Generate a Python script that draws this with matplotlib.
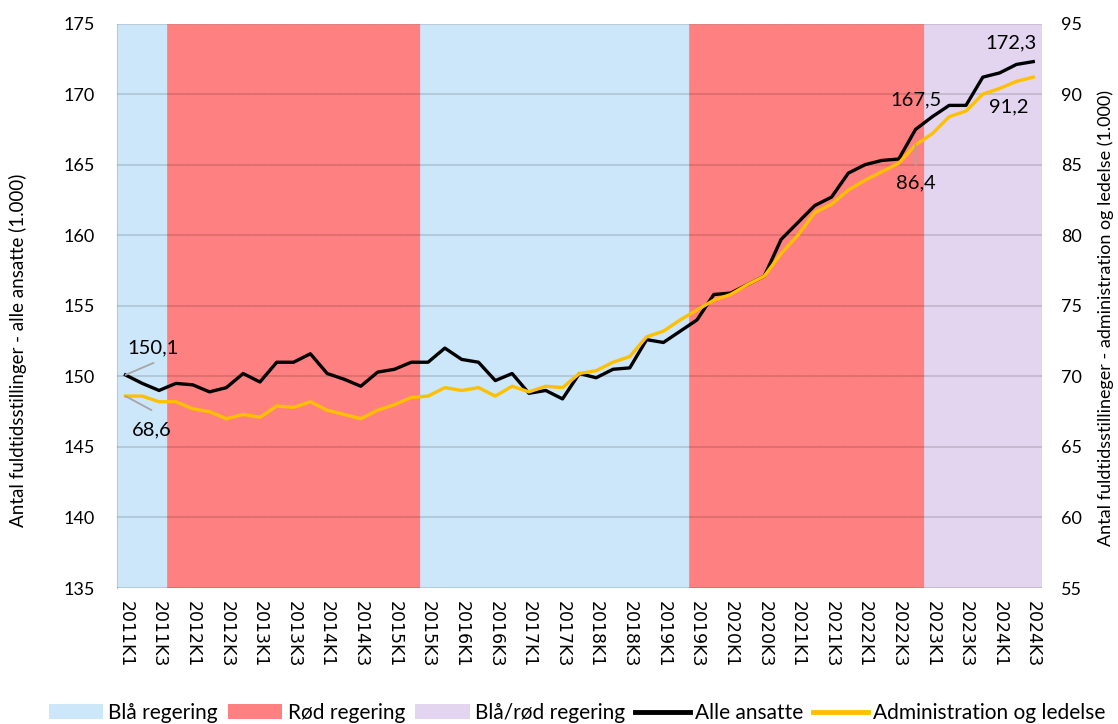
import matplotlib
matplotlib.use('Agg')
import matplotlib.pyplot as plt
from matplotlib.patches import Patch
from matplotlib.lines import Line2D
import numpy as np

plt.rcParams['font.family'] = ['Lato', 'DejaVu Sans']

# Kvartaler 2011K1 - 2024K3
quarters = [f'{y}K{q}' for y in range(2011, 2025) for q in range(1, 5)][:55]

# Regering pr. kvartal (baggrundsfarve)
regering = (['Blå regering'] * 3 + ['Rød regering'] * 15 + ['Blå regering'] * 16
            + ['Rød regering'] * 14 + ['Blå/rød regering'] * 7)

# Alle ansatte (1.000 fuldtidsstillinger), venstre akse
alle_ansatte = [150.1, 149.5, 149.0, 149.5, 149.4, 148.9, 149.2, 150.2, 149.6, 151.0,
                151.0, 151.6, 150.2, 149.8, 149.3, 150.3, 150.5, 151.0, 151.0, 152.0,
                151.2, 151.0, 149.7, 150.2, 148.8, 149.0, 148.4, 150.2, 149.9, 150.5,
                150.6, 152.6, 152.4, 153.2, 154.0, 155.8, 155.9, 156.5, 157.1, 159.7,
                160.9, 162.1, 162.7, 164.4, 165.0, 165.3, 165.4, 167.5, 168.4, 169.2,
                169.2, 171.2, 171.5, 172.1, 172.3]

# Administration og ledelse (1.000 fuldtidsstillinger), højre akse
administration = [68.6, 68.6, 68.2, 68.2, 67.7, 67.5, 67.0, 67.3, 67.1, 67.9,
                  67.8, 68.2, 67.6, 67.3, 67.0, 67.6, 68.0, 68.5, 68.6, 69.2,
                  69.0, 69.2, 68.6, 69.3, 68.9, 69.3, 69.2, 70.2, 70.4, 71.0,
                  71.4, 72.8, 73.2, 74.0, 74.7, 75.4, 75.8, 76.5, 77.1, 78.7,
                  80.0, 81.6, 82.2, 83.2, 83.9, 84.5, 85.1, 86.4, 87.2, 88.4,
                  88.8, 90.0, 90.4, 90.9, 91.2]

left_ticks = [135, 140, 145, 150, 155, 160, 165, 170, 175]
right_ticks = [55, 60, 65, 70, 75, 80, 85, 90, 95]

colors = {
    'Blå regering': '#CCE6FA',
    'Rød regering': '#FF8080',
    'Blå/rød regering': '#E3D5F0',
    'alle': '#000000',
    'adm': '#FFC000',
    'leader': '#A6A6A6',
}

fig = plt.figure(figsize=(11.18, 7.24), dpi=100)
ax = fig.add_axes([0.1047, 0.1878, 0.827, 0.7797])
x = np.arange(len(quarters))

# Baggrund: regeringsperioder
ymin, ymax = left_ticks[0], left_ticks[-1]
band_c = [colors[g] for g in regering]
ax.bar(x, ymax - ymin, bottom=ymin, width=1.0, color=band_c, edgecolor=band_c,
       linewidth=0.5, zorder=0)

ax.set_axisbelow(False)
ax.yaxis.grid(True, color='black', alpha=0.12, linewidth=1.5)
ax.plot(x, alle_ansatte, color=colors['alle'], linewidth=2.4, zorder=3)

ax.set_xlim(-0.5, len(quarters) - 0.5)
ax.set_ylim(ymin, ymax)
ax.set_yticks(left_ticks)
ax.set_xticks(x[::2])
ax.set_xticklabels(quarters[::2], rotation=-90, fontfamily='DejaVu Sans', fontsize=12.5)
ax.tick_params(axis='x', length=0, pad=9)
ax.tick_params(axis='y', length=0, pad=16, labelsize=13)

ax2 = ax.twinx()
ax2.plot(x, administration, color=colors['adm'], linewidth=2.4)
ax2.set_ylim(right_ticks[0], right_ticks[-1])
ax2.set_yticks(right_ticks)
ax2.tick_params(axis='y', length=0, pad=14, labelsize=13)

for a in (ax, ax2):
    for s in a.spines.values():
        s.set_visible(False)
ax.spines['left'].set_visible(True)
ax.spines['left'].set_color('#C8C8C8')

def fmt(v):
    return f'{v:.1f}'.replace('.', ',')

def label(axis, i, series, text_off, line_off=None):
    if line_off is not None:
        axis.annotate('', xy=(x[i], series[i]), xytext=line_off, textcoords='offset pixels',
                      arrowprops=dict(arrowstyle='-', color=colors['leader'], lw=1.3,
                                      shrinkA=0, shrinkB=0))
    axis.annotate(fmt(series[i]), xy=(x[i], series[i]), xytext=text_off,
                  textcoords='offset pixels', ha='center', va='center', fontsize=14.5)

label(ax, 0, alle_ansatte, (28, 27), (28, 12))
label(ax2, 0, administration, (26, -34), (26, -14))
label(ax, 47, alle_ansatte, (0, 29))
label(ax2, 47, administration, (0, -38), (0, -20))
label(ax, 54, alle_ansatte, (-22, 19))
label(ax2, 54, administration, (-24, -30))

fig.text(18 / 1118, 1 - 350 / 724, 'Antal fuldtidsstillinger - alle ansatte (1.000)',
         rotation=90, ha='center', va='center', fontsize=13.5)
fig.text(1106 / 1118, 1 - 318 / 724,
         'Antal fuldtidsstillineger - administration og ledelse (1.000)',
         rotation=90, ha='center', va='center', fontsize=13)

handles = [
    Patch(facecolor=colors['Blå regering'], edgecolor='none'),
    Patch(facecolor=colors['Rød regering'], edgecolor='none'),
    Patch(facecolor=colors['Blå/rød regering'], edgecolor='none'),
    Line2D([], [], color=colors['alle'], lw=3.5),
    Line2D([], [], color=colors['adm'], lw=3.5),
]
labels = ['Blå regering', 'Rød regering', 'Blå/rød regering', 'Alle ansatte',
          'Administration og ledelse']
fig.legend(handles, labels, loc='center', bbox_to_anchor=(577 / 1118, 1 - 713 / 724),
           ncol=5, frameon=False, fontsize=15, handlelength=2.6, handleheight=0.75,
           handletextpad=0.25, columnspacing=0.5, borderaxespad=0, borderpad=0)

fig.savefig('out.png', dpi=100, facecolor='white')
